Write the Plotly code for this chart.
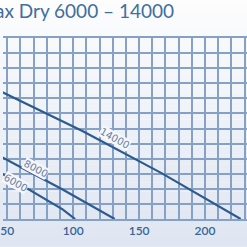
import plotly.graph_objects as go

# Data (flow in L/min, head in m)
flow_14000 = [40, 47, 107, 167, 227]
head_14000 = [4.34, 4.19, 2.92, 1.52, 0.0]
flow_8000 = [40, 47, 92, 131.5]
head_8000 = [2.19, 2.03, 0.98, 0.0]
flow_6000 = [40, 47, 92, 101.5]
head_6000 = [1.66, 1.48, 0.32, 0.0]

series = [("14000", flow_14000, head_14000),
          ("8000", flow_8000, head_8000),
          ("6000", flow_6000, head_6000)]

x_ticks = [50, 100, 150, 200]
title_text = "Aquamax Dry 6000 – 14000"

# label positions (data coords)
label_pos = {"14000": (132.0, 2.68), "8000": (71.5, 1.66), "6000": (56.0, 1.2)}

LINE = "#2d5b8e"
GRID = "#86a0c6"

fig = go.Figure()
for name, xs, ys in series:
    fig.add_trace(go.Scatter(x=xs, y=ys, mode="lines", line=dict(color=LINE, width=2.2),
                             showlegend=False, hoverinfo="skip"))

# background gradient (white top -> light blue bottom)
shapes = []
n = 30
y0p, y1p = -0.2, 1.3
for i in range(n):
    a = y0p + (y1p - y0p) * i / n
    b = y0p + (y1p - y0p) * (i + 1) / n
    t = 1 - (i + 0.5) / n  # 1 at bottom, 0 at top
    t = max(0.0, min(1.0, t))
    r = int(255 - (255 - 222) * t)
    g = int(255 - (255 - 229) * t)
    bl = int(255 - (255 - 241) * t)
    shapes.append(dict(type="rect", xref="paper", yref="paper", x0=-0.1, x1=1.1, y0=a, y1=b,
                       fillcolor=f"rgb({r},{g},{bl})", line=dict(width=0), layer="below"))

annotations = []
angles = {"14000": 29, "8000": 28, "6000": 30}
for name, (lx, ly) in label_pos.items():
    annotations.append(dict(text=name, x=lx, y=ly, xref="x", yref="y", showarrow=False,
                            textangle=angles[name], font=dict(family="DejaVu Sans", size=10, color="#6a80a0"),
                            bgcolor="rgba(245,247,251,1)", borderpad=0))

fig.update_layout(
    width=247, height=247,
    margin=dict(l=0, r=0, t=38, b=27.5),
    paper_bgcolor="#ffffff", plot_bgcolor="rgba(0,0,0,0)",
    shapes=shapes, annotations=annotations,
    title=dict(text=title_text, x=174/247, xanchor="right", xref="container",
               y=1 - 11/247, yanchor="middle", yref="container",
               font=dict(family="Lato", size=19, color="#3f6e9f")),
    xaxis=dict(range=[46.8, 231.8], tickvals=x_ticks, ticktext=[str(v) for v in x_ticks],
               showgrid=True, gridcolor=GRID, gridwidth=1.5,
               minor=dict(dtick=10, tick0=0, showgrid=True, gridcolor=GRID, gridwidth=1.5),
               zeroline=False, showline=True, linecolor=GRID, linewidth=1.5, mirror=True,
               ticks="", ticklabeloverflow="allow",
               tickfont=dict(family="Lato", size=12, color="#35659a", weight=600),
               fixedrange=True),
    yaxis=dict(range=[0, 6], dtick=0.5, showgrid=True, gridcolor=GRID, gridwidth=1.5,
               showticklabels=False, zeroline=False, showline=False, ticks="",
               fixedrange=True),
)

fig.write_html("out.html")
